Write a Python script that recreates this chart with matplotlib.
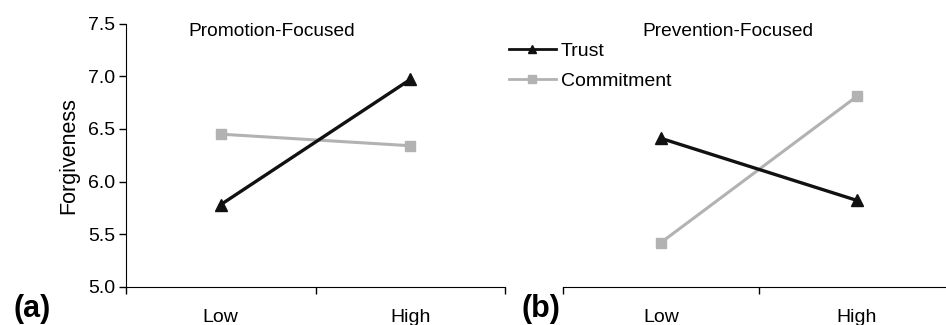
import matplotlib
matplotlib.use('Agg')
import matplotlib.pyplot as plt
from matplotlib.lines import Line2D

plt.rcParams.update({
    'font.family': ['Liberation Sans', 'DejaVu Sans'],
    'font.size': 14,
})

# Data
levels = ['Low', 'High']
promo_trust = [5.78, 6.97]
promo_commit = [6.45, 6.34]
prev_trust = [6.41, 5.82]
prev_commit = [5.42, 6.81]

TRUST_COLOR = '#111111'
COMMIT_COLOR = '#b2b2b2'
W, H = 946, 325

fig = plt.figure(figsize=(W / 100, H / 100), dpi=100)

ax1 = fig.add_axes([126 / W, (H - 286.7) / H, 379 / W, 263 / H])
ax2 = fig.add_axes([563 / W, (H - 286.7) / H, 383 / W, 263 / H])

xpos = [0.5, 1.5]


def draw(ax, trust, commit):
    ax.plot(xpos, commit, '-s', color=COMMIT_COLOR, lw=2.2, ms=7,
            mec=COMMIT_COLOR, clip_on=False, zorder=2)
    ax.plot(xpos, trust, '-^', color=TRUST_COLOR, lw=2.4, ms=8,
            mec=TRUST_COLOR, clip_on=False, zorder=3)
    ax.set_ylim(5.0, 7.5)
    ax.set_xticks([0, 1, 2])
    ax.set_xticklabels([])
    ax.set_xticks(xpos, minor=True)
    ax.set_xticklabels(levels, minor=True)
    ax.tick_params(axis='x', which='minor', length=0, pad=16, labelsize=14)
    ax.tick_params(axis='x', which='major', length=5, width=1, direction='out')
    ax.spines['top'].set_visible(False)
    ax.spines['right'].set_visible(False)


draw(ax1, promo_trust, promo_commit)
ax1.set_xlim(0, 2)
ax1.set_yticks([5.0, 5.5, 6.0, 6.5, 7.0, 7.5])
ax1.set_yticklabels(['5.0', '5.5', '6.0', '6.5', '7.0', '7.5'])
ax1.tick_params(axis='y', length=5, width=1, labelsize=14, pad=3)
ax1.set_ylabel('Forgiveness', fontsize=15.5, labelpad=6)
ax1.text(146 / 379, 1 - 8 / 263, 'Promotion-Focused', transform=ax1.transAxes,
         ha='center', va='center', fontsize=13.8)

draw(ax2, prev_trust, prev_commit)
ax2.set_xlim(0, 383 / 196)
ax2.spines['left'].set_visible(False)
ax2.set_yticks([])
ax2.text(165 / 383, 1 - 8 / 263, 'Prevention-Focused', transform=ax2.transAxes,
         ha='center', va='center', fontsize=13.8)

handles = [
    Line2D([], [], color=TRUST_COLOR, lw=2.0, marker='^', ms=6),
    Line2D([], [], color=COMMIT_COLOR, lw=2.0, marker='s', ms=5.5),
]
fig.legend(handles, ['Trust', 'Commitment'], loc='upper left',
           bbox_to_anchor=(509 / W, 1 - 42 / H), frameon=False,
           fontsize=14, handlelength=2.4, handletextpad=0.25,
           borderpad=0, borderaxespad=0, labelspacing=0.65)

fig.text(13 / W, 1 - 309 / H, '(a)', fontsize=22, fontweight='bold',
         va='center', ha='left')
fig.text(521 / W, 1 - 309 / H, '(b)', fontsize=22, fontweight='bold',
         va='center', ha='left')

fig.savefig('out.png', dpi=100)
